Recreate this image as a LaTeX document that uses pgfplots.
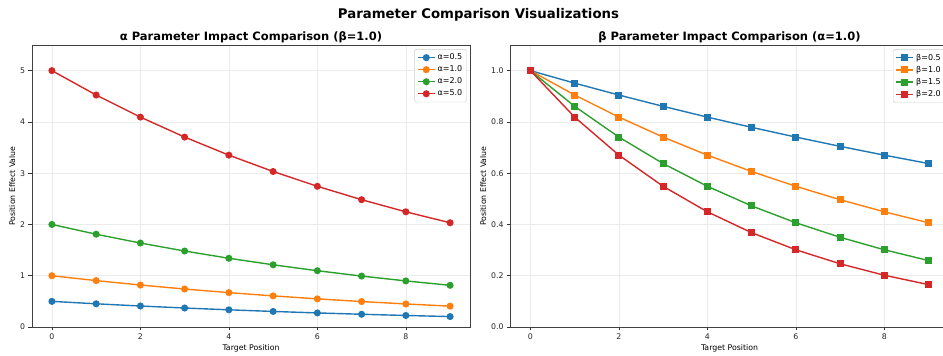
\documentclass[border=0pt]{standalone}
\usepackage{pgfplots}
\pgfplotsset{compat=1.18}
\usepackage{fontspec}
\setmainfont{DejaVu Sans}
\definecolor{c1}{HTML}{1F77B4}
\definecolor{c2}{HTML}{FF7F0E}
\definecolor{c3}{HTML}{2CA02C}
\definecolor{c4}{HTML}{D62728}
\pgfplotsset{
  myax/.style={
    scale only axis, width=438pt, height=282pt, anchor=south west,
    xmin=-0.45, xmax=9.45, ymin=0,
    xtick={0,2,4,6,8},
    tick align=outside, xtick pos=bottom, ytick pos=left,
    major tick length=3.5pt,
    tick style={black!80, line width=0.6pt},
    axis line style={black!75, line width=0.8pt},
    grid=major, major grid style={black!8, line width=0.6pt},
    tick label style={font=\fontsize{7.8}{9}\selectfont, text=black!85},
    /pgf/number format/assume math mode=true,
    label style={font=\fontsize{7.8}{9}\selectfont},
    xlabel={Target Position},
    ylabel={Position Effect Value},
    xlabel style={yshift=2pt},
    ylabel style={yshift=-2pt},
    title style={font=\bfseries\fontsize{11.5}{13}\selectfont, yshift=-7pt},
    legend style={at={(0.993,0.985)}, anchor=north east, font=\fontsize{8}{9.5}\selectfont,
      draw=black!20, rounded corners=1.5pt, row sep=0.6pt, inner sep=2.5pt,
      cells={anchor=west}},
    legend cell align=left,
    every axis plot/.append style={line width=1.4pt, mark size=2.8pt},
  }
}
\begin{document}
\begin{tikzpicture}[x=1pt,y=1pt]
\path[use as bounding box] (0,0) rectangle (943,356);
\node[font=\bfseries\fontsize{13.3}{15}\selectfont] at (478.5,341) {Parameter Comparison Visualizations};
\begin{axis}[myax, at={(32pt,29pt)}, ymax=5.5, ytick={0,1,2,3,4,5},
  title={α Parameter Impact Comparison (β=1.0)}]
\addplot[c1, mark=*] coordinates {(0,0.5) (1,0.4524) (2,0.4094) (3,0.3704) (4,0.3352) (5,0.3033) (6,0.2744) (7,0.2483) (8,0.2247) (9,0.2033)};
\addlegendentry{α=0.5}
\addplot[c2, mark=*] coordinates {(0,1.0) (1,0.9048) (2,0.8187) (3,0.7408) (4,0.6703) (5,0.6065) (6,0.5488) (7,0.4966) (8,0.4493) (9,0.4066)};
\addlegendentry{α=1.0}
\addplot[c3, mark=*] coordinates {(0,2.0) (1,1.8097) (2,1.6375) (3,1.4816) (4,1.3406) (5,1.2131) (6,1.0976) (7,0.9932) (8,0.8987) (9,0.8131)};
\addlegendentry{α=2.0}
\addplot[c4, mark=*] coordinates {(0,5.0) (1,4.5242) (2,4.0937) (3,3.7041) (4,3.3516) (5,3.0327) (6,2.7441) (7,2.4829) (8,2.2466) (9,2.0328)};
\addlegendentry{α=5.0}
\end{axis}
\begin{axis}[myax, at={(510.5pt,29pt)}, ymax=1.1, ytick={0,0.2,0.4,0.6,0.8,1.0},
  yticklabel style={/pgf/number format/.cd, fixed, fixed zerofill, precision=1},
  title={β Parameter Impact Comparison (α=1.0)}]
\addplot[c1, mark=square*] coordinates {(0,1.0) (1,0.9512) (2,0.9048) (3,0.8607) (4,0.8187) (5,0.7788) (6,0.7408) (7,0.7047) (8,0.6703) (9,0.6376)};
\addlegendentry{β=0.5}
\addplot[c2, mark=square*] coordinates {(0,1.0) (1,0.9048) (2,0.8187) (3,0.7408) (4,0.6703) (5,0.6065) (6,0.5488) (7,0.4966) (8,0.4493) (9,0.4066)};
\addlegendentry{β=1.0}
\addplot[c3, mark=square*] coordinates {(0,1.0) (1,0.8607) (2,0.7408) (3,0.6376) (4,0.5488) (5,0.4724) (6,0.4066) (7,0.3499) (8,0.3012) (9,0.2592)};
\addlegendentry{β=1.5}
\addplot[c4, mark=square*] coordinates {(0,1.0) (1,0.8187) (2,0.6703) (3,0.5488) (4,0.4493) (5,0.3679) (6,0.3012) (7,0.2466) (8,0.2019) (9,0.1653)};
\addlegendentry{β=2.0}
\end{axis}
\end{tikzpicture}
\end{document}
